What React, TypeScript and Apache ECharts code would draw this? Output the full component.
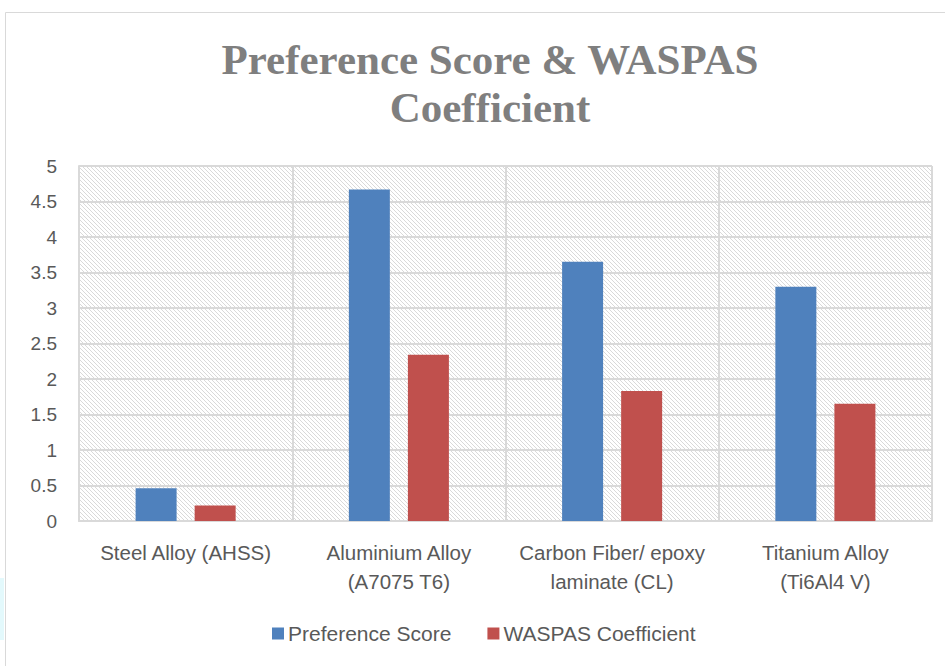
import React, { useEffect, useRef } from "react";
import * as echarts from "echarts";

const categories = [
  "Steel Alloy (AHSS)",
  "Aluminium Alloy\n(A7075 T6)",
  "Carbon Fiber/ epoxy\nlaminate (CL)",
  "Titanium Alloy\n(Ti6Al4 V)",
];
const preferenceScore = [0.46, 4.67, 3.65, 3.3];
const waspasCoefficient = [0.22, 2.34, 1.83, 1.65];
const titleLines = ["Preference Score & WASPAS", "Coefficient"];

function makeHatch() {
  const c = document.createElement("canvas");
  c.width = 8;
  c.height = 8;
  const ctx = c.getContext("2d")!;
  ctx.fillStyle = "#ffffff";
  ctx.fillRect(0, 0, 8, 8);
  ctx.strokeStyle = "#d9d9d9";
  ctx.lineWidth = 1;
  for (const x0 of [-8, -4, 0, 4, 8]) {
    ctx.beginPath();
    ctx.moveTo(x0, 0);
    ctx.lineTo(x0 + 8, 8);
    ctx.stroke();
  }
  return c;
}

export default function App() {
  const ref = useRef<HTMLDivElement>(null);
  useEffect(() => {
    if (!ref.current) return;
    const chart = echarts.init(ref.current, null, { renderer: "svg" });
    const hatch = makeHatch();
    chart.setOption({
      animation: false,
      backgroundColor: "#ffffff",
      title: {
        text: titleLines.join("\n"),
        left: 485,
        textAlign: "center",
        top: 30,
        textStyle: {
          fontFamily: "Liberation Serif",
          fontWeight: "bold",
          fontSize: 43,
          color: "#7f7f7f",
          lineHeight: 48,
        },
      },
      graphic: [
        {
          type: "rect",
          shape: { x: 5.5, y: 12.5, width: 960, height: 700 },
          style: { fill: "none", stroke: "#d9d9d9", lineWidth: 1 },
          z: -1,
        },
        {
          type: "rect",
          shape: { x: 0, y: 578, width: 4, height: 62 },
          style: { fill: "#e3f9fc" },
        },
      ],
      grid: {
        left: 79,
        right: 13,
        top: 166,
        bottom: 145,
        show: true,
        borderWidth: 0,
        backgroundColor: { image: hatch, repeat: "repeat", imageWidth: 8, imageHeight: 8 } as any,
      },
      legend: {
        bottom: 17,
        left: 267,
        itemWidth: 12,
        itemHeight: 12,
        itemGap: 36,
        icon: "rect",
        textStyle: { fontFamily: "Liberation Sans", fontSize: 21, color: "#595959", padding: [0, 0, 0, -1] },
        data: ["Preference Score", "WASPAS Coefficient"],
      },
      xAxis: {
        type: "category",
        data: categories,
        axisTick: { show: false },
        axisLine: { lineStyle: { color: "#d9d9d9", width: 2 } },
        splitLine: { show: true, lineStyle: { color: "#d9d9d9", width: 2 } },
        axisLabel: {
          interval: 0,
          margin: 17,
          lineHeight: 29,
          fontFamily: "Liberation Sans",
          fontSize: 20.5,
          color: "#595959",
        },
      },
      yAxis: {
        type: "value",
        min: 0,
        max: 5,
        interval: 0.5,
        axisLine: { show: true, lineStyle: { color: "#d9d9d9", width: 2 } },
        axisTick: { show: false },
        splitLine: { lineStyle: { color: "#d9d9d9", width: 2 } },
        axisLabel: {
          margin: 22,
          fontFamily: "Liberation Sans",
          fontSize: 19,
          color: "#595959",
        },
      },
      series: [
        {
          name: "Preference Score",
          type: "bar",
          data: preferenceScore,
          barWidth: 41,
          barGap: "44%",
          itemStyle: { color: "#4f81bd" },
        },
        {
          name: "WASPAS Coefficient",
          type: "bar",
          data: waspasCoefficient,
          barWidth: 41,
          itemStyle: { color: "#c0504d" },
        },
      ],
    });
    return () => chart.dispose();
  }, []);
  return (
    <div
      ref={ref}
      style={{ position: "fixed", left: 0, top: 0, width: 945, height: 666 }}
    />
  );
}
